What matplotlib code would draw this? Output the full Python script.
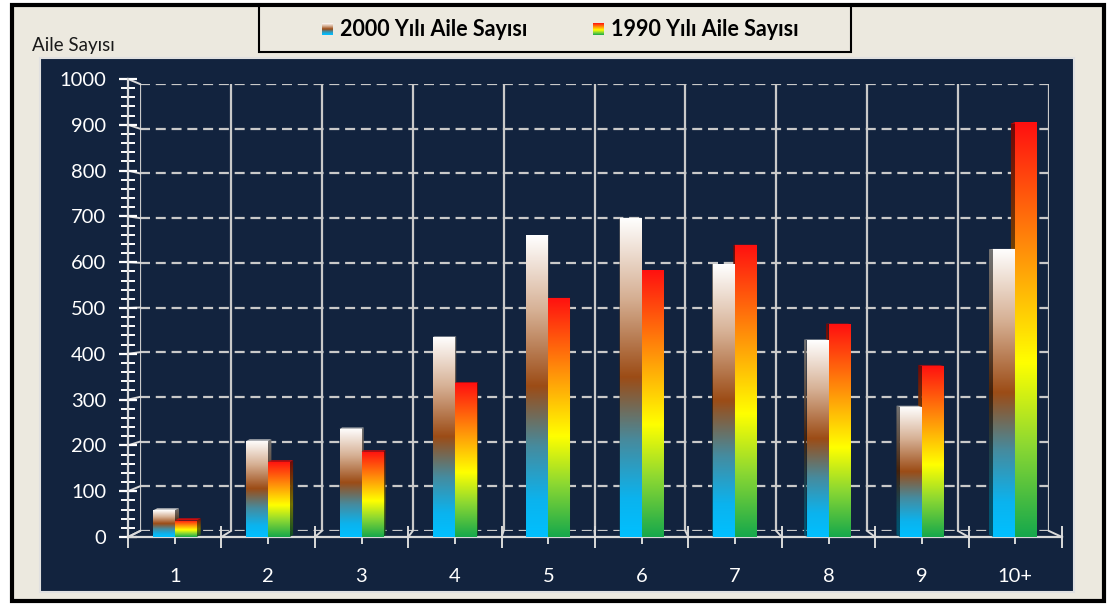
import numpy as np
import matplotlib
matplotlib.use("Agg")
import matplotlib.pyplot as plt
from matplotlib.colors import LinearSegmentedColormap
from matplotlib.patches import Rectangle, Polygon
from matplotlib.lines import Line2D
from matplotlib.ticker import MultipleLocator

# data
categories = ["1", "2", "3", "4", "5", "6", "7", "8", "9", "10+"]
aile_2000 = [58, 210, 236, 437, 659, 697, 596, 430, 284, 629]
aile_1990 = [36, 164, 186, 336, 522, 583, 638, 465, 374, 906]
series_labels = ["2000 Yılı Aile Sayısı", "1990 Yılı Aile Sayısı"]
y_label = "Aile Sayısı"

plt.rcParams["font.family"] = ["Lato", "DejaVu Sans"]

W, H = 1108, 610
BEIGE = "#ECE9DF"
NAVY = "#12233E"
GRID = "#C9C9C9"

cmap_2000 = LinearSegmentedColormap.from_list("c2000", [
    (0.0, "#00C0FF"), (0.12, "#0BB3EE"), (0.3, "#468B9E"),
    (0.5, "#9C4C16"), (0.75, "#D6B094"), (1.0, "#FFFFFF")])
cmap_1990 = LinearSegmentedColormap.from_list("c1990", [
    (0.0, "#16A84C"), (0.22, "#8CD832"), (0.42, "#FFFF00"),
    (0.7, "#FF8C0A"), (1.0, "#FF1010")])


def box(x0, y0, x1, y1):
    """pixel box (top-left origin) -> figure fraction [l, b, w, h]"""
    return [x0 / W, 1 - y1 / H, (x1 - x0) / W, (y1 - y0) / H]


fig = plt.figure(figsize=(W / 100, H / 100), dpi=100, facecolor="white")

# outer frame and navy panel
b = box(12, 5, 1104, 601)
fig.patches.append(Rectangle((b[0], b[1]), b[2], b[3], transform=fig.transFigure,
                             facecolor=BEIGE, edgecolor="black", lw=3, zorder=-3))
b = box(40, 58, 1074, 592)
fig.patches.append(Rectangle((b[0], b[1]), b[2], b[3], transform=fig.transFigure,
                             facecolor=NAVY, edgecolor="#E0E0E0", lw=1.5, zorder=-2))

# legend box
b = box(259, 6, 851, 52)
fig.patches.append(Rectangle((b[0], b[1]), b[2], b[3], transform=fig.transFigure,
                             facecolor=BEIGE, edgecolor="black", lw=1.5, zorder=-1))

# back wall (grid)
ax_back = fig.add_axes(box(140, 84, 1049, 531))
ax_back.set_zorder(1)
ax_back.set_xlim(0, len(categories))
ax_back.set_ylim(0, 1000)
ax_back.axis("off")
for v in range(0, 1001, 100):
    ax_back.plot([0, len(categories)], [v, v], color=GRID, lw=1.6, ls=(0, (4.5, 2.6)))
for k in range(len(categories) + 1):
    ax_back.plot([k, k], [0, 1000], color=GRID, lw=1.6)

# front axes
ax = fig.add_axes(box(128, 79, 1062, 537))
ax.set_zorder(2)
ax.set_facecolor("none")
ax.set_xlim(-0.5, len(categories) - 0.5)
ax.set_ylim(0, 1000)
for s in ["top", "right"]:
    ax.spines[s].set_visible(False)
for s in ["left", "bottom"]:
    ax.spines[s].set_color("#DADADA")
    ax.spines[s].set_linewidth(1.6)
ax.yaxis.set_major_locator(MultipleLocator(100))
ax.yaxis.set_minor_locator(MultipleLocator(20))
ax.tick_params(axis="y", which="major", direction="inout", length=13, width=1.6,
               color="white", labelcolor="white", labelsize=14.5, pad=9)
ax.tick_params(axis="y", which="minor", direction="inout", length=10, width=1.4, color="white")
x = np.arange(len(categories))
ax.set_xticks(x)
ax.set_xticklabels(categories)
ax.set_xticks(np.arange(len(categories) + 1) - 0.5, minor=True)
ax.tick_params(axis="x", which="major", direction="inout", length=10, width=1.4,
               color="#DADADA", labelcolor="white", labelsize=14.5, pad=17)
ax.tick_params(axis="x", which="minor", direction="inout", length=16, width=1.4, color="#DADADA")

fig.canvas.draw()
to_data = ax.transData.inverted()


def depth(xf, v, frac):
    """depth vector (in display px) from front plane toward the back wall"""
    p_front = ax.transData.transform((xf, v))
    p_back = ax_back.transData.transform((xf + 0.5, v))
    return (p_back - p_front) * frac


# floor / wall diagonals
for k in range(len(categories) + 1):
    p0 = ax.transData.transform((k - 0.5, 0))
    p1 = ax_back.transData.transform((k, 0))
    fig.add_artist(Line2D([p0[0] / W, p1[0] / W], [p0[1] / H, p1[1] / H],
                          transform=fig.transFigure, color="#DADADA", lw=1.4, zorder=1.5))
for v in range(0, 1001, 100):
    p0 = ax.transData.transform((-0.5, v))
    p1 = ax_back.transData.transform((0, v))
    fig.add_artist(Line2D([p0[0] / W, p1[0] / W], [p0[1] / H, p1[1] / H],
                          transform=fig.transFigure, color="#DADADA", lw=1.4, zorder=1.5))

grad = np.linspace(0, 1, 256).reshape(-1, 1)


def shaded(cmap, k):
    rgba = cmap(grad[:, 0])
    rgba[:, :3] *= k
    return rgba.reshape(-1, 1, 4)


width = 0.235
series = [(aile_2000, cmap_2000, -width / 2), (aile_1990, cmap_1990, width / 2)]
for i in range(len(categories)):
    right_side = depth(i, 0, 1)[0] > 0
    order = [0, 1] if right_side else [1, 0]
    for rank, si in enumerate(order):
        vals, cmap, off = series[si]
        h = vals[i]
        x0, x1 = i + off - width / 2, i + off + width / 2
        z = 3 + rank
        rect = ax.bar(i + off, h, width=width, color="none", zorder=z)[0]
        im = ax.imshow(grad, cmap=cmap, origin="lower", extent=(x0, x1, 0, h),
                       aspect="auto", zorder=z + 0.5)
        im.set_clip_path(rect)

        xe = x1 if right_side else x0
        d0 = depth(xe, 0, 0.4)
        dh = depth(xe, h, 0.4)
        pe0 = ax.transData.transform((xe, 0))
        peh = ax.transData.transform((xe, h))
        side = to_data.transform([pe0, peh, peh + dh, pe0 + d0])
        poly = Polygon(side, closed=True, facecolor="none", edgecolor="none", zorder=z)
        ax.add_patch(poly)
        sx = side[:, 0]
        sim = ax.imshow(shaded(cmap, 0.45), origin="lower",
                        extent=(sx.min(), sx.max(), 0, side[:, 1].max()),
                        aspect="auto", zorder=z)
        sim.set_clip_path(poly)

        pa = ax.transData.transform((x0, h))
        pb = ax.transData.transform((x1, h))
        da = depth(x0, h, 0.4)
        db = depth(x1, h, 0.4)
        cap = to_data.transform([pa, pb, pb + db, pa + da])
        top = np.array(cmap(1.0)[:3]) * 0.8
        ax.add_patch(Polygon(cap, closed=True, facecolor=top, edgecolor="none", zorder=z))

ax.set_xlim(-0.5, len(categories) - 0.5)
ax.set_ylim(0, 1000)

# axis label
fig.text(32 / W, 1 - 46 / H, y_label, fontsize=13.5, color="#1A1A1A", va="center", ha="left")

# legend entries
for (vals, cmap, _), label, mx in zip(series, series_labels, [322, 593]):
    lax = fig.add_axes(box(mx, 23, mx + 11, 35))
    lax.set_zorder(3)
    lax.imshow(grad, cmap=cmap, origin="lower", aspect="auto")
    lax.axis("off")
    fig.text((mx + 18) / W, 1 - 29.5 / H, label, fontsize=15.5, fontweight="bold",
             color="black", va="center", ha="left")

fig.savefig("out.png", dpi=100, facecolor="white")
